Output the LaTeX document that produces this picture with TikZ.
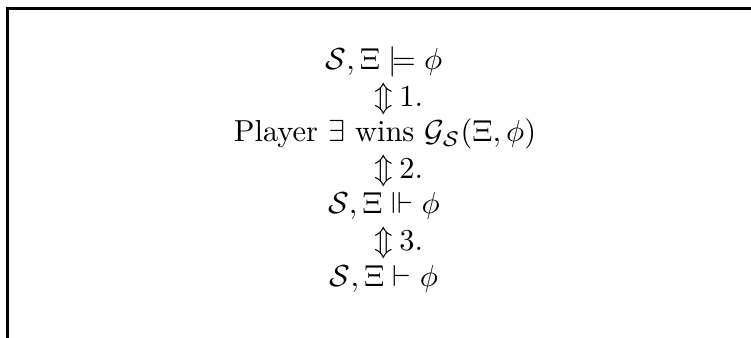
\documentclass[tikz,border=0pt]{standalone}
\usepackage{amssymb}
\begin{document}
\begin{tikzpicture}[x=0.329pt,y=-0.329pt,
  row/.style={anchor=base,inner sep=0pt,outer sep=0pt},
  lab/.style={anchor=base west,inner sep=0pt,outer sep=0pt}]
\useasboundingbox (0,0) rectangle (751,338);
\coordinate (tr) at (751,8.7);
\coordinate (tl) at (7.7,8.7);
\coordinate (bl) at (7.7,338);
\draw[line width=0.9pt] (tr) -- (tl) -- (bl);
\node[row] (l1) at (384,70) {$\mathcal{S},\Xi\models\phi$};
\node[row] (a1) at (384,107) {$\Updownarrow$};
\node[lab] (n1) at ([xshift=2pt]a1.base east) {1.};
\node[row] (l2) at (385,142) {Player $\exists$ wins $\mathcal{G}_{\mathcal{S}}(\Xi,\phi)$};
\node[row] (a2) at (384,179) {$\Updownarrow$};
\node[lab] (n2) at ([xshift=2pt]a2.base east) {2.};
\node[row] (l3) at (384,214) {$\mathcal{S},\Xi\Vdash\phi$};
\node[row] (a3) at (384,251) {$\Updownarrow$};
\node[lab] (n3) at ([xshift=2pt]a3.base east) {3.};
\node[row] (l4) at (384,287) {$\mathcal{S},\Xi\vdash\phi$};
\end{tikzpicture}
\end{document}
